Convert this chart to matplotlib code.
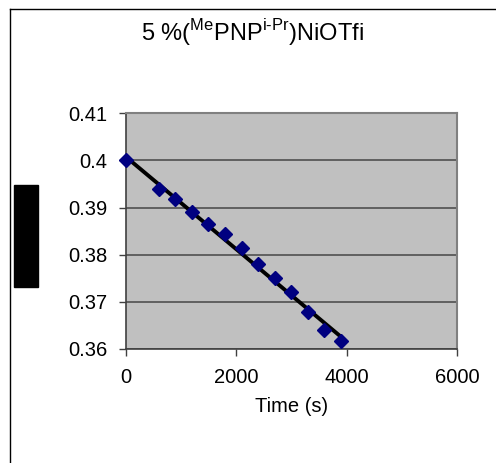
import matplotlib
matplotlib.use("Agg")
import matplotlib.pyplot as plt
import numpy as np
from matplotlib.patches import Rectangle
from matplotlib.lines import Line2D

plt.rcParams['font.family'] = ['Liberation Sans', 'DejaVu Sans']
plt.rcParams['mathtext.fontset'] = 'custom'
plt.rcParams['mathtext.rm'] = 'Liberation Sans'

# data
time_s = [0, 600, 900, 1200, 1500, 1800, 2100, 2400, 2700, 3000, 3300, 3600, 3900]
values = [0.4000, 0.3939, 0.3918, 0.3890, 0.3864, 0.3844, 0.3815,
          0.3780, 0.3750, 0.3721, 0.3679, 0.3640, 0.3617]
x_ticks = [0, 2000, 4000, 6000]
y_ticks = [0.36, 0.37, 0.38, 0.39, 0.40, 0.41]
y_tick_labels = ['0.36', '0.37', '0.38', '0.39', '0.4', '0.41']

W, H = 496, 463
fig = plt.figure(figsize=(W / 100, H / 100), dpi=100)
ax = fig.add_axes([125.5 / W, 1 - 348.7 / H, 331.5 / W, 235.3 / H])

ax.set_facecolor('#C0C0C0')
ax.set_xlim(0, 6000)
ax.set_ylim(0.36, 0.41)
ax.set_xticks(x_ticks)
ax.set_yticks(y_ticks)
ax.set_yticklabels(y_tick_labels)
ax.tick_params(labelsize=14.5, length=5, width=1, color='#404040', direction='out')
ax.tick_params(axis='y', pad=8)
ax.tick_params(axis='x', pad=9)
ax.grid(axis='y', color='#505050', linewidth=1.2)
ax.set_axisbelow(True)
for s in ['top', 'right']:
    ax.spines[s].set_color('#808080')
    ax.spines[s].set_linewidth(1.5)
for s in ['left', 'bottom']:
    ax.spines[s].set_color('#404040')
    ax.spines[s].set_linewidth(1.2)

# linear trend line
k, b = np.polyfit(time_s, values, 1)
tt = np.array([time_s[0], time_s[-1]])
ax.plot(tt, k * tt + b, color='black', linewidth=2.8, zorder=3)
ax.plot(time_s, values, linestyle='none', marker='D', markersize=7.5,
        color='#000080', zorder=4, clip_on=False)

ax.set_xlabel('Time (s)', fontsize=14.5, labelpad=7)
fig.text(253 / W, 1 - 33 / H,
         r'5 %($^{\mathrm{Me}}$PNP$^{\mathrm{i\text{-}Pr}}$)NiOTfi',
         ha='center', va='center', fontsize=17)

# hidden y label block
fig.patches.append(Rectangle((14 / W, 1 - 287 / H), 24 / W, 102 / H,
                             transform=fig.transFigure, color='black'))
# chart area border (left and top visible)
fig.add_artist(Line2D([10 / W, 10 / W], [0, 1 - 9 / H], transform=fig.transFigure,
                      color='black', linewidth=1))
fig.add_artist(Line2D([10 / W, 1], [1 - 9 / H, 1 - 9 / H], transform=fig.transFigure,
                      color='black', linewidth=1))

fig.savefig('out.png', dpi=100)
